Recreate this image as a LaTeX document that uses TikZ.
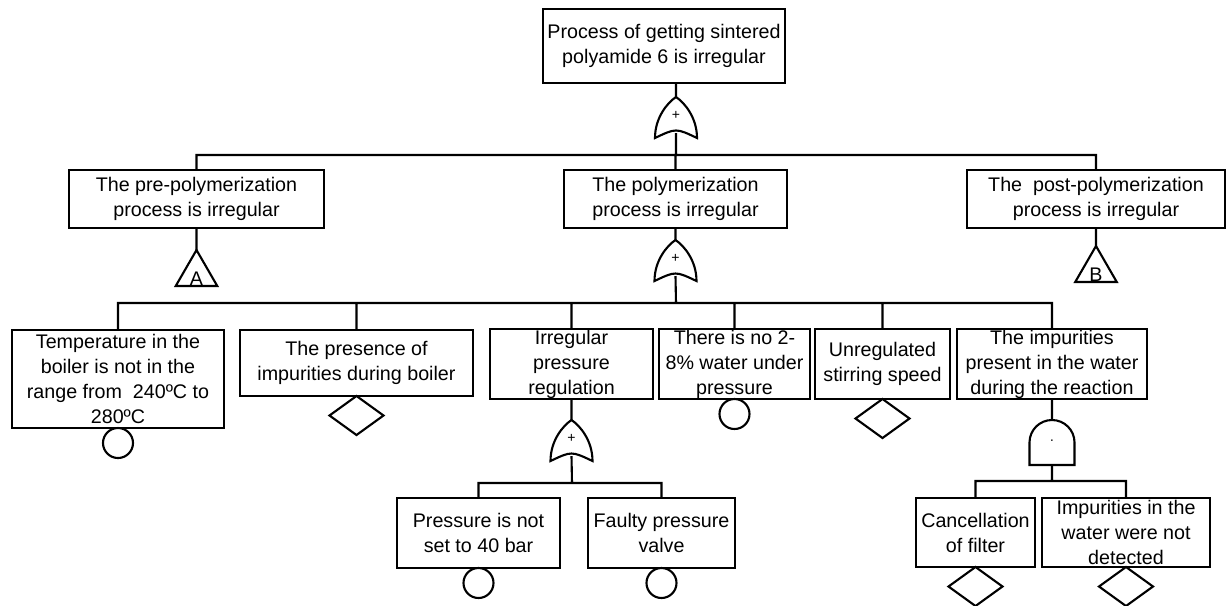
\documentclass[tikz,border=0pt]{standalone}
\usepackage{fontspec}
\setmainfont{Liberation Sans}
\usepackage{tikz}
\usetikzlibrary{shapes,positioning,calc}

\newcommand{\orgate}[1]{%
	\draw[shift={(#1.south)}] (-21,-5) .. controls (-21,15) and (-9,30) .. (0,36)
	.. controls (9,30) and (21,15) .. (21,-5)
	.. controls (0,5) .. (-21,-5) -- cycle;}
\newcommand{\andgate}[1]{%
	\draw[shift={(#1.center)}] (-22.5,-22.5) -- (-22.5,0)
	arc[start angle=180, end angle=0, radius=0.5625cm] -- (22.5,-22.5) -- cycle;}

\begin{document}
\begin{tikzpicture}[x=0.025cm,y=0.025cm,line width=1.5pt,
		font=\fontsize{14}{17.8}\selectfont,
		box/.style={draw, rectangle, align=center, inner sep=0pt, outer sep=0pt},
		gatenode/.style={minimum width=1.05cm, minimum height=0.9cm, inner sep=0pt, outer sep=0pt, font=\fontsize{10}{10}\selectfont},
		basic/.style={draw, circle, minimum size=0.75cm, inner sep=0pt, outer sep=0pt},
		undev/.style={draw, diamond, minimum width=1.35cm, minimum height=0.975cm, inner sep=0pt, outer sep=0pt},
		transfer/.style={draw, regular polygon, regular polygon sides=3, minimum size=1.2cm, inner sep=0pt, outer sep=0pt}]

		\useasboundingbox (0,0) rectangle (1226,606);

		% top event
		\node[box,
			minimum width=6.05cm,
			minimum height=1.85cm
		] (top) at (664,560) {Process of getting sintered\\polyamide 6 is irregular};

		\node[gatenode] (g1) at (676,491) {+};
		\coordinate (b1) at (676,451);

		% second level
		\node[box,
			minimum width=6.375cm,
			minimum height=1.45cm
		] (pre) at (196.5,407) {The pre-polymerization\\process is irregular};

		\node[box,
			minimum width=5.575cm,
			minimum height=1.45cm
		] (poly) at (675.5,407) {The polymerization\\process is irregular};

		\node[box,
			minimum width=6.45cm,
			minimum height=1.45cm
		] (post) at (1096,407) {The\ \ post-polymerization\\process is irregular};

		\node[transfer, below=0.55cm of pre] (A) {\smash{\raisebox{-8pt}{A}}};
		\node[transfer, below=0.45cm of post] (B) {\smash{\raisebox{-8pt}{B}}};

		\node[gatenode, below=0.3cm of poly] (g2) {+};
		\coordinate (b2) at (676,303);

		% third level
		\node[box,
			minimum width=5.3cm,
			minimum height=2.45cm
		] (temp) at (118,227) {Temperature in the\\boiler is not in the\\range from\ \ 240ºC to\\280ºC};

		\node[box,
			minimum width=5.825cm,
			minimum height=1.65cm
		] (boiler) at (356.5,243) {The presence of\\impurities during boiler};

		\node[box,
			minimum width=4.075cm,
			minimum height=1.75cm
		] (press) at (571.5,242) {Irregular\\pressure\\regulation};

		\node[box,
			minimum width=3.775cm,
			minimum height=1.75cm
		] (water) at (734.5,242) {There is no 2-\\8\% water under\\pressure};

		\node[box,
			minimum width=3.375cm,
			minimum height=1.75cm
		] (stir) at (882.5,242) {Unregulated\\stirring speed};

		\node[box,
			minimum width=4.75cm,
			minimum height=1.75cm
		] (impur) at (1052,242) {The impurities\\present in the water\\during the reaction};

		\node[basic, below=0pt of temp] (tempev) {};
		\node[undev, below=0pt of boiler] (boilerev) {};
		\node[basic, below=0pt of water] (waterev) {};
		\node[undev, below=0pt of stir] (stirev) {};

		\node[gatenode, below=0.525cm of press] (g3) {+};
		\coordinate (b3) at (572,123);

		\node[gatenode,
			minimum width=1.125cm,
			minimum height=1.125cm,
			below=0.525cm of impur
		] (g4) {·};
		\coordinate (b4) at (1052,125);

		% fourth level
		\node[box,
			minimum width=4.075cm,
			minimum height=1.75cm
		] (setbar) at (478.5,73) {Pressure is not\\set to 40 bar};

		\node[box,
			minimum width=3.675cm,
			minimum height=1.75cm
		] (valve) at (661.5,73) {Faulty pressure\\valve};

		\node[box,
			minimum width=2.975cm,
			minimum height=1.725cm
		] (filter) at (975.5,73.5) {Cancellation\\of filter};

		\node[box,
			minimum width=4.2cm,
			minimum height=1.725cm
		] (detect) at (1126,73.5) {Impurities in the\\water were not\\detected};

		\node[basic, below=0pt of setbar] (setbarev) {};
		\node[basic, below=0pt of valve] (valveev) {};
		\node[undev, below=0pt of filter] (filterev) {};
		\node[undev, below=0pt of detect] (detectev) {};

		% gates
		\orgate{g1}
		\orgate{g2}
		\orgate{g3}
		\andgate{g4}

		\draw (top.south -| g1.north) -- (g1.north)
		(g1.south) -- (b1)
		(pre.north) |- (b1) -| (post.north)
		(poly.north) -- (poly.north |- b1)
		(pre.south) -- (A.north)
		(post.south) -- (B.north)
		(poly.south) -- (g2.north)
		(g2.south) -- (b2)
		(temp.north) |- (b2) -| (impur.north)
		(boiler.north) -- (boiler.north |- b2)
		(press.north) -- (press.north |- b2)
		(water.north) -- (water.north |- b2)
		(stir.north) -- (stir.north |- b2)
		(press.south) -- (g3.north)
		(g3.south) -- (b3)
		(setbar.north) |- (b3) -| (valve.north)
		(impur.south) -- (g4.north)
		(g4.south) -- (b4)
		(filter.north) |- (b4) -| (detect.north);

	\end{tikzpicture}
\end{document}
